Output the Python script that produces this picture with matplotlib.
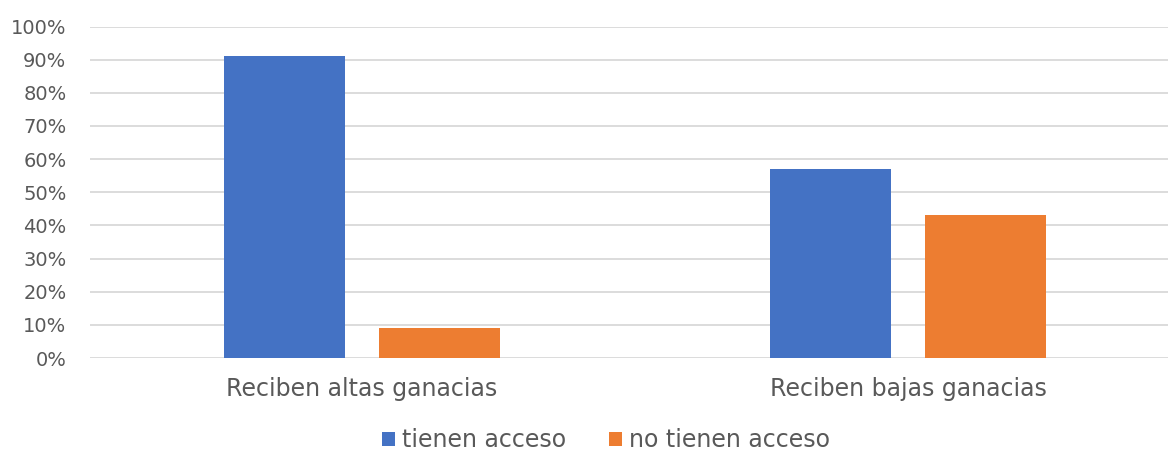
import matplotlib.pyplot as plt
import numpy as np
from matplotlib.ticker import FuncFormatter

categories = ["Reciben altas ganacias", "Reciben bajas ganacias"]
series_names = ["tienen acceso", "no tienen acceso"]
tienen = [0.91, 0.57]
no_tienen = [0.09, 0.43]
colors = ["#4472C4", "#ED7D31"]

plt.rcParams["font.family"] = ["DejaVu Sans"]
text_color = "#595959"

fig = plt.figure(figsize=(11.68, 4.5), dpi=100)
ax = fig.add_axes([90 / 1168, 1 - 358 / 450, 1 - 90 / 1168, (358 - 26.5) / 450])

x = np.arange(len(categories))
w = 0.223
off = 0.142
ax.bar(x - off, tienen, w, color=colors[0], label=series_names[0], zorder=3)
ax.bar(x + off, no_tienen, w, color=colors[1], label=series_names[1], zorder=3)

ax.set_xlim(-0.498, 1.476)
ax.set_ylim(0, 1)
ax.set_yticks(np.arange(0, 1.01, 0.1))
ax.yaxis.set_major_formatter(FuncFormatter(lambda v, p: f"{v * 100:.0f}%"))
ax.set_xticks(x)
ax.set_xticklabels(categories)
ax.grid(axis="y", color="#D9D9D9", linewidth=1.3, zorder=0)
for s in ax.spines.values():
    s.set_visible(False)
ax.tick_params(axis="both", length=0, colors=text_color)
ax.tick_params(axis="y", labelsize=14, pad=17)
ax.tick_params(axis="x", labelsize=17, pad=14)

leg = fig.legend(
    loc="center",
    bbox_to_anchor=(606 / 1168, 1 - 440 / 450),
    ncol=2,
    frameon=False,
    fontsize=17,
    handlelength=0.55,
    handleheight=0.55,
    handletextpad=0.3,
    columnspacing=1.8,
)
for t in leg.get_texts():
    t.set_color(text_color)

fig.savefig("out.png", dpi=100)
